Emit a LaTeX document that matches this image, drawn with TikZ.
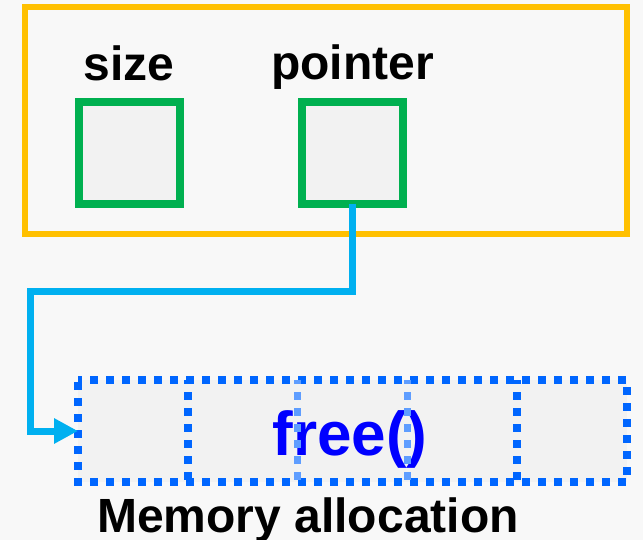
\documentclass[tikz,border=0pt]{standalone}
\usepackage{fontspec}
\setmainfont{Liberation Sans}
\usetikzlibrary{arrows.meta}
\definecolor{bgc}{HTML}{F8F8F8}
\definecolor{cellfill}{HTML}{F2F2F2}
\definecolor{orangec}{HTML}{FFC000}
\definecolor{greenc}{HTML}{00B050}
\definecolor{cyanc}{HTML}{00B0F0}
\definecolor{dotblue}{HTML}{0066FF}
\definecolor{lightdot}{HTML}{5E9DFF}
\definecolor{freeblue}{HTML}{0000FF}
\tikzset{
  slot/.style={draw=greenc, line width=8pt, fill=cellfill, minimum width=101.5pt, minimum height=102pt, outer sep=0pt, inner sep=0pt},
  lbl/.style={anchor=base, inner sep=0pt, font=\bfseries\fontsize{48}{56}\selectfont},
  dotline/.style={line width=7.5pt, dash pattern=on 7.5pt off 8.5pt, dash phase=3.75pt},
  link/.style={draw=cyanc, line width=7pt, -{Triangle[length=24pt,width=24pt]}}
}
\begin{document}
\begin{tikzpicture}[x=1pt,y=-1pt]
\fill[bgc] (0,0) rectangle (643,540);
\useasboundingbox (0,0) rectangle (643,540);
% outer struct box
\node[draw=orangec, line width=6pt, minimum width=601.5pt, minimum height=227pt, inner sep=0pt, outer sep=0pt] (outer) at (325.75,121) {};
\node[slot] (size) at (129.25,153) {};
\node[slot] (ptr) at (352.5,153) {};
\node[lbl] (sizelbl) at (129,81) {size};
\node[lbl] (ptrlbl) at (352.5,80) {pointer};
% memory block
\node[fill=cellfill, minimum width=549pt, minimum height=102pt, inner sep=0pt, outer sep=0pt] (mem) at (352.5,431) {};
\node[anchor=base, inner sep=0pt, text=freeblue, font=\bfseries\fontsize{62}{70}\selectfont] (freetxt) at (350,455) {free()};
\draw[dotline, draw=dotblue] (mem.north west) -- (mem.north east) -- (mem.south east) -- (mem.south west) -- cycle;
\draw[dotline, draw=dotblue] (188,380) -- (188,482);
\draw[dotline, draw=dotblue] (517,380) -- (517,482);
\draw[dotline, draw=lightdot] (297.5,380) -- (297.5,482);
\draw[dotline, draw=lightdot] (407.5,380) -- (407.5,482);
\node[lbl] (memlbl) at (308,532) {Memory allocation};
% connector
\coordinate (k) at (30.5,292);
\draw[link] (ptr.south) |- (k) |- (mem.west);
\end{tikzpicture}
\end{document}
